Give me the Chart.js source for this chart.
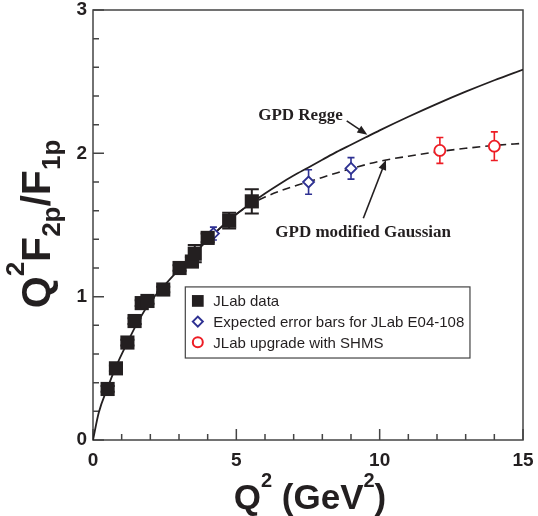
<!DOCTYPE html>
<html>
<head>
<meta charset="utf-8">
<script src="https://cdn.jsdelivr.net/npm/chart.js@4/dist/chart.umd.min.js"></script>
<style>
  html, body { margin: 0; padding: 0; background: #fff; }
  #wrap { width: 538px; height: 516px; }
</style>
</head>
<body>
<div id="wrap"><canvas id="ratio-chart"></canvas></div>
<script>
// JLab data (squares)
const jlabQ2 = [0.51, 0.80, 1.20, 1.45, 1.70, 1.90, 2.45, 3.02, 3.45, 3.55, 4.00, 4.75, 5.54];
const jlabRatio = [0.356, 0.50, 0.68, 0.83, 0.955, 0.97, 1.05, 1.20, 1.245, 1.30, 1.41, 1.53, 1.665];
const jlabErr = [0.02, 0.02, 0.02, 0.02, 0.02, 0.02, 0.02, 0.02, 0.03, 0.06, 0.03, 0.055, 0.085];

// expected E04-108 (blue diamonds)
const e04Q2 = [4.2, 7.52, 9.0];
const e04Ratio = [1.44, 1.80, 1.895];
const e04Err = [0.045, 0.085, 0.075];

// SHMS upgrade (red circles)
const shmsQ2 = [12.1, 14.0];
const shmsRatio = [2.02, 2.05];
const shmsErr = [0.09, 0.10];

// GPD Regge curve (solid)
const reggeQ2 = [0, 0.2, 0.5, 0.8, 1.2, 1.5, 2, 2.5, 3, 3.5, 4, 4.5, 5, 5.5, 6, 6.5, 7, 7.5, 8, 8.5, 9, 9.5, 10, 11, 12, 13, 14, 15];
const reggeRatio = [0, 0.19, 0.36, 0.51, 0.68, 0.80, 0.965, 1.08, 1.19, 1.295, 1.395, 1.49, 1.575, 1.65, 1.72, 1.785, 1.845, 1.90, 1.955, 2.01, 2.06, 2.11, 2.16, 2.255, 2.345, 2.43, 2.51, 2.585];

// GPD modified Gaussian curve (dashed)
const gaussQ2 = [4, 4.5, 5, 5.5, 6, 6.5, 7, 7.5, 8, 8.5, 9, 10, 11, 12, 13, 14, 15];
const gaussRatio = [1.395, 1.49, 1.575, 1.645, 1.695, 1.735, 1.77, 1.80, 1.832, 1.863, 1.893, 1.945, 1.98, 2.01, 2.035, 2.055, 2.07];

// axis ticks
const xTickValues = [0, 1, 2, 3, 4, 5, 6, 7, 8, 9, 10, 11, 12, 13, 14, 15];
const yTickValues = [0, 0.2, 0.4, 0.6, 0.8, 1, 1.2, 1.4, 1.6, 1.8, 2, 2.2, 2.4, 2.6, 2.8, 3];

const BLUE = '#2e3192';
const RED = '#ed1c24';
const INK = '#231f20';

function pts(xs, ys) {
    return xs.map(function (x, i) { return { x: x, y: ys[i] }; });
}

// error bars, drawn under the markers
const errorBars = {
    id: 'errorBars',
    beforeDatasetsDraw(chart) {
        const ctx = chart.ctx;
        const xs = chart.scales.x, ys = chart.scales.y;
        function bars(q2, val, err, color, cap, width) {
            ctx.strokeStyle = color;
            ctx.lineWidth = width;
            ctx.beginPath();
            q2.forEach(function (q, i) {
                const px = xs.getPixelForValue(q);
                const top = ys.getPixelForValue(val[i] + err[i]);
                const bot = ys.getPixelForValue(val[i] - err[i]);
                ctx.moveTo(px, top); ctx.lineTo(px, bot);
                ctx.moveTo(px - cap, top); ctx.lineTo(px + cap, top);
                ctx.moveTo(px - cap, bot); ctx.lineTo(px + cap, bot);
            });
            ctx.stroke();
        }
        ctx.save();
        bars(jlabQ2, jlabRatio, jlabErr, INK, 7, 2);
        bars(e04Q2, e04Ratio, e04Err, BLUE, 3.5, 1.6);
        bars(shmsQ2, shmsRatio, shmsErr, RED, 3.5, 1.6);
        ctx.restore();
    }
};

// box, inward ticks, annotations, legend and axis titles
const decorations = {
    id: 'decorations',
    beforeDatasetsDraw(chart) {
        const ctx = chart.ctx, a = chart.chartArea;
        const xs = chart.scales.x, ys = chart.scales.y;
        ctx.save();
        ctx.strokeStyle = '#444';
        ctx.lineWidth = 1.5;
        ctx.strokeRect(a.left, a.top, a.right - a.left, a.bottom - a.top);
        ctx.beginPath();
        xTickValues.forEach(function (v) {
            const px = xs.getPixelForValue(v);
            const len = v % 5 === 0 ? 11 : 6;
            ctx.moveTo(px, a.bottom); ctx.lineTo(px, a.bottom - len);
        });
        yTickValues.forEach(function (v) {
            const py = ys.getPixelForValue(v);
            const len = Math.abs(v - Math.round(v)) < 1e-6 ? 11 : 6;
            ctx.moveTo(a.left, py); ctx.lineTo(a.left + len, py);
        });
        ctx.stroke();
        ctx.restore();
    },
    afterDatasetsDraw(chart) {
        const ctx = chart.ctx;
        const xs = chart.scales.x, ys = chart.scales.y;
        ctx.save();

        // curve labels with arrows
        function arrow(x0, y0, x1, y1) {
            const ax = xs.getPixelForValue(x0), ay = ys.getPixelForValue(y0);
            const bx = xs.getPixelForValue(x1), by = ys.getPixelForValue(y1);
            const ang = Math.atan2(by - ay, bx - ax);
            ctx.strokeStyle = INK; ctx.fillStyle = INK; ctx.lineWidth = 1.6;
            ctx.beginPath();
            ctx.moveTo(ax, ay);
            ctx.lineTo(bx - 6 * Math.cos(ang), by - 6 * Math.sin(ang));
            ctx.stroke();
            ctx.beginPath();
            ctx.moveTo(bx, by);
            ctx.lineTo(bx - 10 * Math.cos(ang) + 4 * Math.sin(ang), by - 10 * Math.sin(ang) - 4 * Math.cos(ang));
            ctx.lineTo(bx - 10 * Math.cos(ang) - 4 * Math.sin(ang), by - 10 * Math.sin(ang) + 4 * Math.cos(ang));
            ctx.closePath();
            ctx.fill();
        }
        ctx.font = 'bold 17px "Liberation Serif"';
        ctx.fillStyle = INK;
        ctx.textBaseline = 'alphabetic';
        ctx.textAlign = 'right';
        ctx.fillText('GPD Regge', xs.getPixelForValue(8.71), ys.getPixelForValue(2.233));
        arrow(8.85, 2.226, 9.57, 2.13);
        ctx.textAlign = 'left';
        ctx.fillText('GPD modified Gaussian', xs.getPixelForValue(6.36), ys.getPixelForValue(1.415));
        arrow(9.43, 1.547, 10.22, 1.954);

        // legend box
        const lx = xs.getPixelForValue(3.22), ly = ys.getPixelForValue(1.068);
        const lw = xs.getPixelForValue(13.15) - lx, lh = ys.getPixelForValue(0.572) - ly;
        ctx.fillStyle = '#fff';
        ctx.fillRect(lx, ly, lw, lh);
        ctx.strokeStyle = '#444';
        ctx.lineWidth = 1.2;
        ctx.strokeRect(lx, ly, lw, lh);
        const items = chart.data.datasets.filter(function (d) { return d.inLegend; });
        ctx.font = '15px "Liberation Sans"';
        ctx.textAlign = 'left';
        items.forEach(function (d, i) {
            const cy = ly + 14 + i * 20.7;
            ctx.fillStyle = d.backgroundColor;
            ctx.strokeStyle = d.borderColor;
            ctx.lineWidth = d.pointStyle === 'rect' ? 0 : 2;
            Chart.helpers.drawPoint(ctx, {
                pointStyle: d.pointStyle,
                radius: d.pointStyle === 'rect' ? 8.3 : 5,
                borderWidth: d.pointStyle === 'rect' ? 0 : 2,
                rotation: 0
            }, lx + 12.5, cy);
            ctx.fillStyle = INK;
            ctx.fillText(d.label, lx + 28, cy + 5.4);
        });

        ctx.restore();
    },
    afterDraw(chart) {
        const ctx = chart.ctx, a = chart.chartArea;
        ctx.save();
        ctx.fillStyle = INK;
        ctx.textBaseline = 'alphabetic';
        ctx.textAlign = 'left';

        // runs of [text, font, vertical shift]
        function drawRuns(runs, cx, base) {
            let total = 0;
            runs.forEach(function (r) { ctx.font = r[1]; total += ctx.measureText(r[0]).width; });
            let x = cx - total / 2;
            runs.forEach(function (r) {
                ctx.font = r[1];
                ctx.fillText(r[0], x, base + r[2]);
                x += ctx.measureText(r[0]).width;
            });
        }

        // x title: Q^2 (GeV^2)
        const big = 'bold 35px "Liberation Sans"';
        const small = 'bold 20px "Liberation Sans"';
        drawRuns([['Q', big, 0], ['2', small, -22], [' (GeV', big, 0], ['2', small, -22], [')', big, 0]],
            (a.left + a.right) / 2 + 2, 509);

        // y title: Q^2 F_2p / F_1p, rotated
        const bigY = 'bold 41px "Liberation Sans"';
        const smallY = 'bold 26px "Liberation Sans"';
        ctx.translate(50, 224);
        ctx.rotate(-Math.PI / 2);
        drawRuns([['Q', bigY, 0], ['2', smallY, -26], ['F', bigY, 0], ['2p', smallY, 10], ['/', bigY, 0], ['F', bigY, 0], ['1p', smallY, 10]], 0, 0);
        ctx.restore();
    }
};

const ctx = document.getElementById('ratio-chart').getContext('2d');
new Chart(ctx, {
    type: 'scatter',
    data: {
        datasets: [
            {
                label: 'JLab data',
                inLegend: true,
                data: pts(jlabQ2, jlabRatio),
                pointStyle: 'rect',
                pointRadius: 10,
                backgroundColor: INK,
                borderColor: INK,
                borderWidth: 0,
                order: 1
            },
            {
                label: 'Expected error bars for JLab E04-108',
                inLegend: true,
                data: pts(e04Q2, e04Ratio),
                pointStyle: 'rectRot',
                pointRadius: 5.5,
                backgroundColor: '#fff',
                borderColor: BLUE,
                borderWidth: 1.8,
                order: 1
            },
            {
                label: 'JLab upgrade with SHMS',
                inLegend: true,
                data: pts(shmsQ2, shmsRatio),
                pointStyle: 'circle',
                pointRadius: 5.5,
                backgroundColor: '#fff',
                borderColor: RED,
                borderWidth: 1.8,
                order: 1
            },
            {
                label: 'GPD Regge',
                type: 'line',
                data: pts(reggeQ2, reggeRatio),
                borderColor: INK,
                borderWidth: 1.8,
                pointRadius: 0,
                fill: false,
                cubicInterpolationMode: 'monotone',
                order: 5
            },
            {
                label: 'GPD modified Gaussian',
                type: 'line',
                data: pts(gaussQ2, gaussRatio),
                borderColor: INK,
                borderWidth: 1.6,
                borderDash: [8, 5],
                pointRadius: 0,
                fill: false,
                cubicInterpolationMode: 'monotone',
                order: 5
            }
        ]
    },
    options: {
        responsive: true,
        maintainAspectRatio: false,
        animation: false,
        layout: { padding: { top: 10, right: 15, left: 0, bottom: 0 } },
        plugins: {
            legend: { display: false },
            tooltip: { enabled: false }
        },
        scales: {
            x: {
                type: 'linear',
                min: 0,
                max: 15,
                afterFit: function (scale) {
                    scale.height = 76;
                    scale.paddingLeft = 0;
                    scale.paddingRight = 0;
                },
                grid: { display: false, drawTicks: false },
                border: { display: false },
                ticks: {
                    stepSize: 5,
                    padding: 9,
                    color: INK,
                    font: { family: 'Liberation Sans', size: 19, weight: 'bold' }
                }
            },
            y: {
                min: 0,
                max: 3,
                afterFit: function (scale) {
                    scale.width = 93;
                    scale.paddingTop = 0;
                    scale.paddingBottom = 0;
                },
                grid: { display: false, drawTicks: false },
                border: { display: false },
                ticks: {
                    stepSize: 1,
                    padding: 6,
                    color: INK,
                    font: { family: 'Liberation Sans', size: 19, weight: 'bold' }
                }
            }
        }
    },
    plugins: [errorBars, decorations]
});
</script>
</body>
</html>
